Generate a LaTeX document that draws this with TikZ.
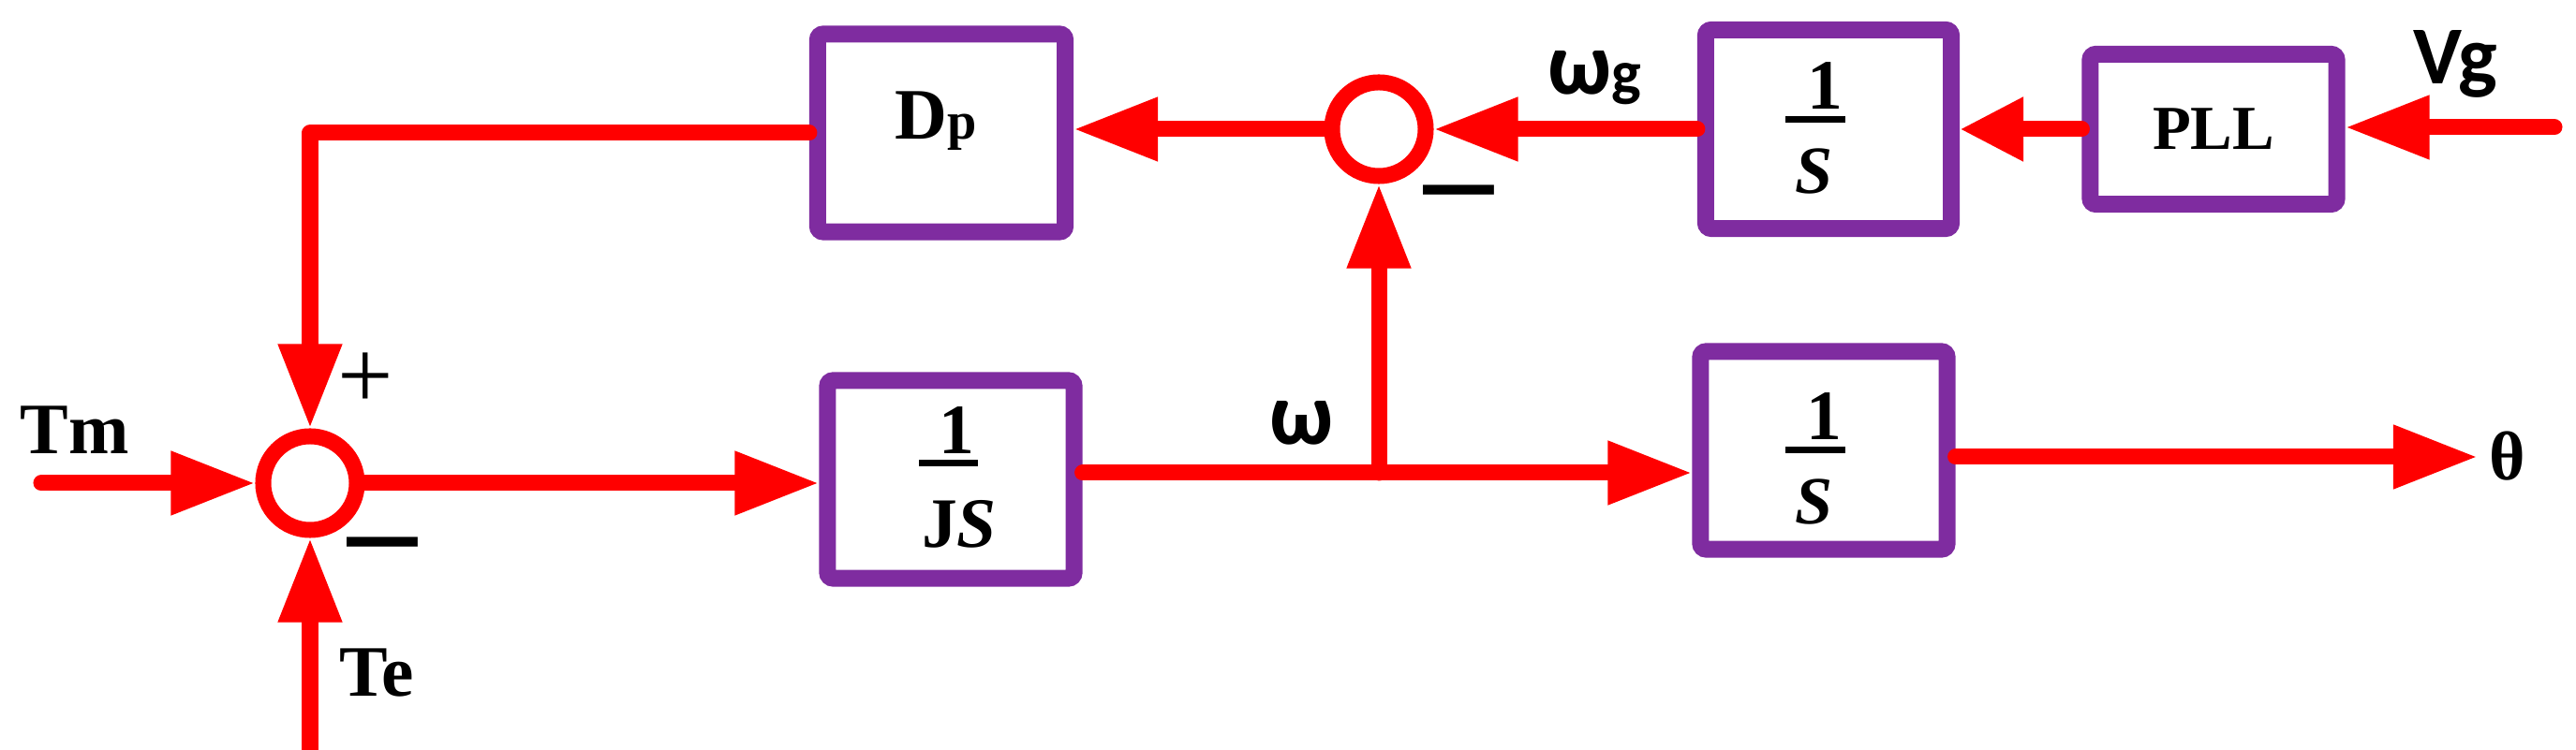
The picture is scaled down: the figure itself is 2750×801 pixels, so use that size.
\documentclass[tikz,border=0pt]{standalone}
\usepackage{fontspec}
\setmainfont{Liberation Serif}
\newfontfamily\calib{Carlito}
\usetikzlibrary{arrows.meta}
\definecolor{boxpurple}{HTML}{7F2CA0}
\definecolor{linered}{HTML}{FF0000}
\begin{document}
\begin{tikzpicture}[x=0.01cm,y=-0.01cm,
  conn/.style={draw=linered, line width=0.17cm, line cap=round, line join=round},
  arr/.style={conn, -{Triangle[length=0.9cm,width=0.64cm]}},
  shortarr/.style={conn, -{Triangle[length=0.68cm,width=0.64cm]}},
  blk/.style={draw=boxpurple, line width=0.18cm, rounded corners=0.06cm, fill=white, inner sep=0pt},
  sumj/.style={draw=linered, circle, line width=0.17cm, minimum size=1.0cm, inner sep=0pt, fill=white},
  serifb/.style={inner sep=0pt, font=\fontsize{22pt}{26pt}\selectfont\bfseries},
  fracnum/.style={inner sep=0pt, anchor=base, font=\fontsize{21.5pt}{24pt}\selectfont\bfseries},
  fracbar/.style={draw=black, line width=0.07cm},
  sansb/.style={inner sep=0pt, anchor=base west, font=\calib\bfseries\fontsize{27pt}{30pt}\selectfont},
  signtxt/.style={inner sep=0pt}
]
\useasboundingbox (0,0) rectangle (2750,801);

% blocks
\node[blk, minimum width=2.64cm, minimum height=2.11cm] (dp) at (1005,142) {};
\node[blk, minimum width=2.63cm, minimum height=2.11cm] (js) at (1015,512) {};
\node[blk, minimum width=2.62cm, minimum height=2.12cm] (s2) at (1952,138) {};
\node[blk, minimum width=2.63cm, minimum height=2.11cm] (s3) at (1947,481) {};
\node[blk, minimum width=2.63cm, minimum height=1.60cm, font=\fontsize{19pt}{22pt}\selectfont\bfseries] (pll) at (2363,138) {PLL};

% summing junctions
\node[sumj] (s1) at (331,516) {};
\node[sumj] (c2) at (1472,138) {};

% free ends
\coordinate (tmin) at (44,516);
\coordinate (tein) at (331,815);
\coordinate (jn) at (1472,505);
\coordinate (vgin) at (2727,136);
\coordinate (thout) at (2645,488);

% connectors
\draw[arr] (tmin) -- (s1.west);
\draw[arr] (s1.east) -- (s1.east -| js.west);
\draw[conn] (js.east |- jn) -- (jn);
\draw[arr] (jn) -- (jn -| s3.west);
\draw[arr] (jn) -- (c2.south);
\draw[arr] (c2.west) -- (c2.west -| dp.east);
\draw[arr] (dp.west) -| (s1.north);
\draw[arr] (s2.west |- c2.east) -- (c2.east);
\draw[shortarr] (pll.west) -- (s2.east |- pll.west);
\draw[arr] (vgin) -- (vgin -| pll.east);
\draw[arr] (tein) -- (s1.south);
\draw[arr] (s3.east |- thout) -- (thout);

% block texts
\node[serifb, anchor=base west] (dptxt) at (955,149) {D{\fontsize{16pt}{18pt}\selectfont p}};
\node[fracnum] (jsnum) at (1021,485) {1};
\draw[fracbar] (981,495) -- (1044,495);
\node[fracnum] (jsden) at (1024,585) {J\textit{S}};
\node[fracnum] (s2num) at (1948,117) {1};
\draw[fracbar] (1906,128) -- (1970,128);
\node[fracnum, font=\fontsize{20.5pt}{24pt}\selectfont\bfseries\itshape] (s2den) at (1937,207) {S};
\node[fracnum] (s3num) at (1947,470) {1};
\draw[fracbar] (1906,481) -- (1970,481);
\node[fracnum, font=\fontsize{20.5pt}{24pt}\selectfont\bfseries\itshape] (s3den) at (1937,560) {S};

% signal labels
\node[serifb, anchor=base west] (tm) at (21,485) {Tm};
\node[serifb, anchor=base west] (te) at (362,744) {Te};
\node[serifb, anchor=base west, font=\fontsize{21pt}{24pt}\selectfont\bfseries] (th) at (2657,513) {θ};
\node[sansb] (w) at (1355,475) {ω};
\node[sansb] (wg) at (1652,101) {ω{\fontsize{19pt}{22pt}\selectfont g}};
\node[sansb, font=\calib\bfseries\fontsize{25pt}{28pt}\selectfont] (vg) at (2576,90) {Vg};

% signs
\node[signtxt, anchor=center, font=\fontsize{30pt}{30pt}\selectfont] (plus1) at (390,407) {+};
\node[signtxt, anchor=base, font=\fontsize{42pt}{44pt}\selectfont\bfseries] (minus1) at (408,614) {–};
\node[signtxt, anchor=base, font=\fontsize{42pt}{44pt}\selectfont\bfseries] (minus2) at (1557,238) {–};
\end{tikzpicture}
\end{document}
